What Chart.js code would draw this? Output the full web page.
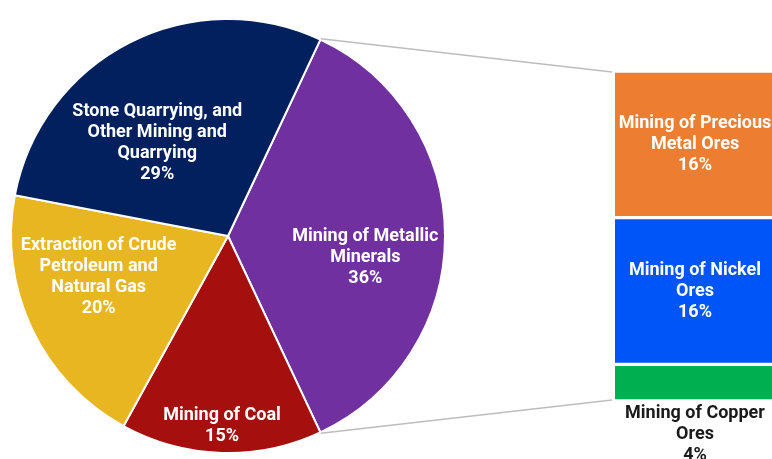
<!DOCTYPE html>
<html>
<head>
<meta charset="utf-8">
<script src="https://cdn.jsdelivr.net/npm/chart.js@4"></script>
<style>
  html, body { margin: 0; padding: 0; background: #fff; }
  #wrap { position: relative; width: 772px; height: 459px; overflow: hidden; }
  #pieChart { position: absolute; left: 0; top: 0; }
  #barChart { position: absolute; left: 615px; top: 0; }
</style>
</head>
<body>
<div id="wrap">
  <canvas id="pieChart" width="772" height="459"></canvas>
  <canvas id="barChart" width="160" height="459"></canvas>
</div>
<script>
// Mining sector shares; the metallic slice is broken out into the bar on the right
const pieLabels = [
  ["Mining of Metallic", "Minerals"],
  ["Mining of Coal"],
  ["Extraction of Crude", "Petroleum and", "Natural Gas"],
  ["Stone Quarrying, and", "Other Mining and", "Quarrying"]
];
const pieValues = [36, 15, 20, 29];
const pieColors = ["#7030A0", "#A50F0D", "#E8B621", "#02205E"];

// bottom to top of the stack
const barLabels = [
  ["Mining of Copper", "Ores"],
  ["Mining of Nickel", "Ores"],
  ["Mining of Precious", "Metal Ores"]
];
const barValues = [4, 16, 16];
const barColors = ["#00B050", "#0055F8", "#ED7D31"];

// where each pie label sits: fraction of radius, degrees turned off the slice middle
const pieLabelSpots = [
  { frac: 0.64, turn: 8.7 },
  { frac: 0.876, turn: 0 },
  { frac: 0.625, turn: 7.7 },
  { frac: 0.537, turn: -10.4 }
];

const FONT = "bold 18px Roboto";
const LINE_H = 21;
const BAR_LEFT = 615;

function drawLines(ctx, lines, x, yTop, color) {
  ctx.save();
  ctx.font = FONT;
  ctx.fillStyle = color;
  ctx.textAlign = "center";
  ctx.textBaseline = "middle";
  lines.forEach((t, i) => ctx.fillText(t, x, yTop + i * LINE_H));
  ctx.restore();
}

function drawBlock(ctx, lines, x, yMid, color) {
  drawLines(ctx, lines, x, yMid - (lines.length - 1) * LINE_H / 2, color);
}

const barLabelPlugin = {
  id: "barLabels",
  afterDatasetsDraw(chart) {
    const ctx = chart.ctx;
    chart.data.datasets.forEach((ds, i) => {
      const bar = chart.getDatasetMeta(i).data[0];
      const lines = [...barLabels[i], ds.data[0] + "%"];
      const h = Math.abs(bar.base - bar.y);
      if (h > lines.length * LINE_H) {
        drawBlock(ctx, lines, bar.x, (bar.y + bar.base) / 2, "#fff");
      } else {
        // too thin for its label: write it under the bar
        drawLines(ctx, lines, bar.x, bar.base + 12, "#1a1a1a");
      }
    });
  }
};

const barChart = new Chart(document.getElementById("barChart"), {
  type: "bar",
  data: {
    labels: ["Mining of Metallic Minerals"],
    datasets: barValues.map((v, i) => ({
      label: barLabels[i].join(" "),
      data: [v],
      backgroundColor: barColors[i],
      borderColor: "#fff",
      borderWidth: { top: 2, bottom: 2, left: 0, right: 0 },
      borderSkipped: false,
      barPercentage: 1,
      categoryPercentage: 1
    }))
  },
  options: {
    responsive: false,
    animation: false,
    layout: { padding: { top: 71, bottom: 58, left: 0, right: 0 } },
    plugins: { legend: { display: false }, tooltip: { enabled: false } },
    scales: {
      x: { display: false, stacked: true },
      y: { display: false, stacked: true, min: 0, max: 36 }
    }
  },
  plugins: [barLabelPlugin]
});

const pieLabelPlugin = {
  id: "pieLabels",
  afterDatasetsDraw(chart) {
    const ctx = chart.ctx;
    const arcs = chart.getDatasetMeta(0).data;

    // connector lines from the metallic slice to the ends of the stacked bar
    const metal = arcs[0];
    const topBar = barChart.getDatasetMeta(barValues.length - 1).data[0];
    const lowBar = barChart.getDatasetMeta(0).data[0];
    const xEnd = BAR_LEFT + topBar.x - topBar.width / 2 - 3;
    const r = metal.outerRadius + 1;
    ctx.save();
    ctx.strokeStyle = "#bdbdbd";
    ctx.lineWidth = 1.5;
    ctx.beginPath();
    ctx.moveTo(metal.x + r * Math.cos(metal.startAngle), metal.y + r * Math.sin(metal.startAngle));
    ctx.lineTo(xEnd, topBar.y + 1);
    ctx.moveTo(metal.x + r * Math.cos(metal.endAngle), metal.y + r * Math.sin(metal.endAngle));
    ctx.lineTo(xEnd, lowBar.base - 1);
    ctx.stroke();
    ctx.restore();

    arcs.forEach((arc, i) => {
      const spot = pieLabelSpots[i];
      const mid = (arc.startAngle + arc.endAngle) / 2 + spot.turn * Math.PI / 180;
      const d = arc.outerRadius * spot.frac;
      const x = arc.x + d * Math.cos(mid);
      const y = arc.y + d * Math.sin(mid);
      drawBlock(ctx, [...pieLabels[i], pieValues[i] + "%"], x, y, "#fff");
    });
  }
};

new Chart(document.getElementById("pieChart"), {
  type: "pie",
  data: {
    labels: pieLabels.map(l => l.join(" ")),
    datasets: [{
      data: pieValues,
      backgroundColor: pieColors,
      borderColor: "#fff",
      borderWidth: 2
    }]
  },
  options: {
    responsive: false,
    animation: false,
    rotation: 25.2,
    layout: { padding: { left: 10, top: 18, right: 326, bottom: 5 } },
    plugins: { legend: { display: false }, tooltip: { enabled: false } }
  },
  plugins: [pieLabelPlugin]
});
</script>
</body>
</html>
